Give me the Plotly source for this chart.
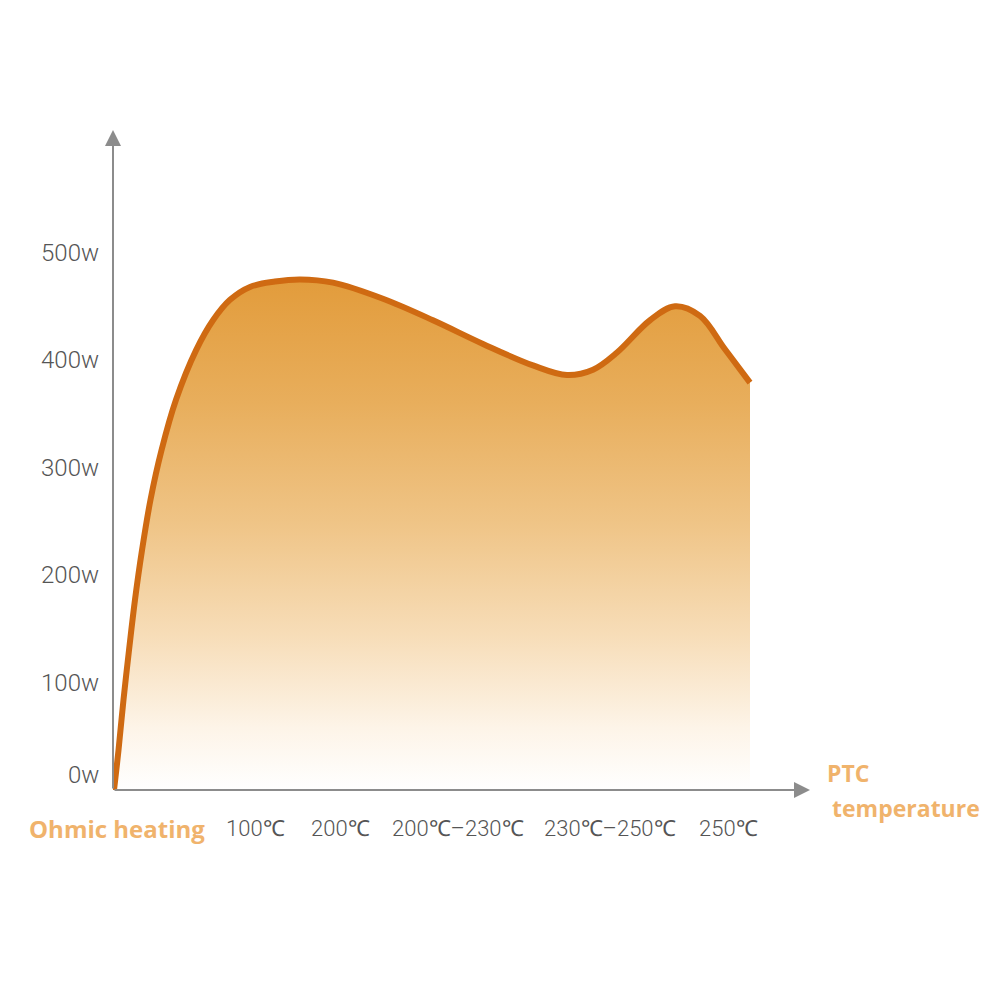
import plotly.graph_objects as go

# ---- data ----
curve_x = [0.1, 0.55, 1.05, 1.6, 2.2, 2.9, 3.75, 4.85, 6.3, 8.3, 10.0, 11.7, 13.7, 16.2,
           18.7, 22.0, 27.0, 32.0, 37.0, 42.0, 45.4, 48.0, 50.4, 53.7, 56.2, 58.7, 61.2, 63.7]
curve_y = [0, 37, 84, 130, 177, 223, 270, 316, 363, 409, 437, 456, 468, 473,
           475, 472, 457, 437, 415, 395, 386, 391, 407, 437, 450, 441, 410, 379]

y_tick_vals = [0, 100, 200, 300, 400, 500]
y_tick_text = ["0w", "100w", "200w", "300w", "400w", "500w"]

x_tick_vals = [14.2, 22.7, 34.5, 49.7, 61.5]
x_tick_text = ["100℃", "200℃", "200℃–230℃", "230℃–250℃", "250℃"]

origin_label = "Ohmic heating"
axis_label = ["PTC", "temperature"]

X_MAX = 69.7
Y_MAX = 614

Y_LABEL_FONT = dict(family="Roboto, Liberation Sans, sans-serif", weight=300,
                    size=24, color="#555555")
X_LABEL_FONT = dict(family="Roboto, Liberation Sans, sans-serif", weight=300,
                    size=22, color="#555555")
ORANGE_FONT = dict(family="Open Sans, Noto Sans, sans-serif", size=23, color="#F0B36C")
AXIS_COLOR = "#8C8C8C"

fig = go.Figure()

fig.add_trace(go.Scatter(
    x=curve_x, y=curve_y,
    mode="lines",
    line=dict(color="#CF6A12", width=6, shape="spline", smoothing=1.0),
    fill="tozeroy",
    fillgradient=dict(
        type="vertical", start=0, stop=480,
        colorscale=[[0.0, "#FFFFFF"], [0.12, "#FDF4E8"], [0.3, "#F7DDB8"],
                    [0.52, "#EFC486"], [0.75, "#E8AE5C"], [1.0, "#E29B3A"]],
    ),
    hoverinfo="skip",
    showlegend=False,
))

annotations = []
# axes arrows
annotations.append(dict(x=0, y=Y_MAX, ax=0, ay=0, xref="x", yref="y", axref="x", ayref="y",
                        showarrow=True, arrowhead=2, arrowsize=1.6, arrowwidth=2,
                        arrowcolor=AXIS_COLOR, text=""))
annotations.append(dict(x=X_MAX, y=0, ax=0, ay=0, xref="x", yref="y", axref="x", ayref="y",
                        showarrow=True, arrowhead=2, arrowsize=1.6, arrowwidth=2,
                        arrowcolor=AXIS_COLOR, text=""))

# y tick labels
for v, t in zip(y_tick_vals, y_tick_text):
    annotations.append(dict(x=0, y=v, xref="x", yref="y", text=t, showarrow=False,
                            xanchor="right", yanchor="middle", xshift=-12,
                            yshift=15 if v == 0 else 0, font=Y_LABEL_FONT))

# x tick labels
for v, t in zip(x_tick_vals, x_tick_text):
    annotations.append(dict(x=v, y=0, xref="x", yref="y", text=t, showarrow=False,
                            xanchor="center", yanchor="middle", yshift=-38, font=X_LABEL_FONT))

annotations.append(dict(x=0.4, y=0, xref="x", yref="y", text="<b>%s</b>" % origin_label,
                        showarrow=False, xanchor="center", yanchor="middle", yshift=-38,
                        font=dict(ORANGE_FONT, size=24)))
annotations.append(dict(x=1.022, y=0.026, xref="paper", yref="paper", text="<b>%s</b>" % axis_label[0],
                        showarrow=False, xanchor="left", yanchor="middle",
                        font=ORANGE_FONT))
annotations.append(dict(x=1.029, y=-0.027, xref="paper", yref="paper", text="<b>%s</b>" % axis_label[1],
                        showarrow=False, xanchor="left", yanchor="middle",
                        font=ORANGE_FONT))

fig.update_layout(
    width=1000, height=1000,
    margin=dict(l=105, r=198, t=122, b=218),
    paper_bgcolor="white", plot_bgcolor="white",
    xaxis=dict(range=[0, X_MAX], visible=False, fixedrange=True),
    yaxis=dict(range=[0, Y_MAX], visible=False, fixedrange=True),
    annotations=annotations,
    showlegend=False,
)

fig.write_html("out.html")
